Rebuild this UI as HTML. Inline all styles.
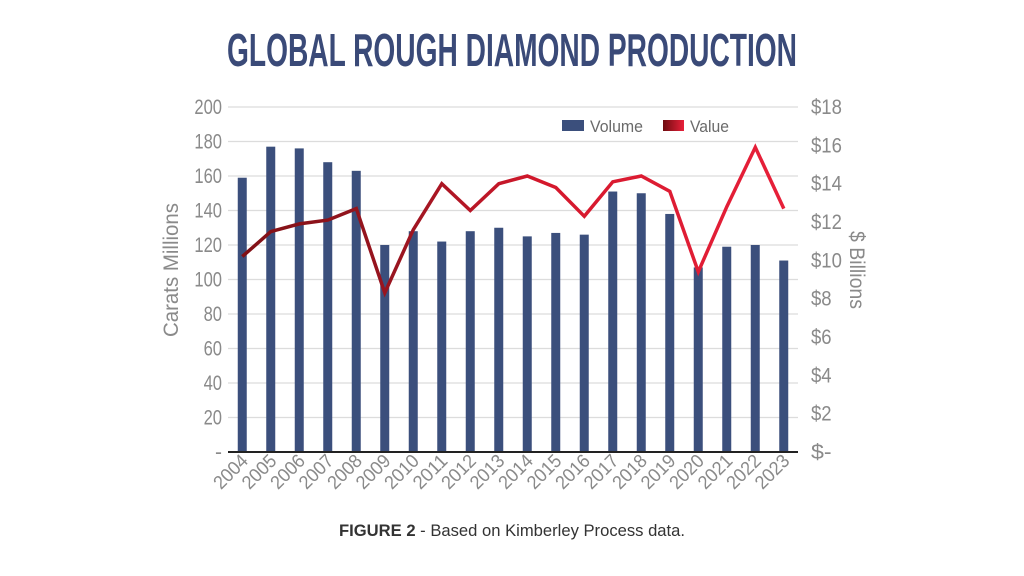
<!DOCTYPE html>
<html><head><meta charset="utf-8"><style>
html,body{margin:0;padding:0;background:#fff;}
svg{display:block;font-family:"Liberation Sans Narrow","Liberation Sans",sans-serif;}
</style></head><body>
<svg id="chart" width="1024" height="576" viewBox="0 0 1024 576" xmlns="http://www.w3.org/2000/svg">
<defs>
<linearGradient id="lineGrad" gradientUnits="userSpaceOnUse" x1="228" y1="0" x2="798" y2="0">
<stop offset="0" stop-color="#7e1015"/><stop offset="0.3" stop-color="#9a1520"/><stop offset="0.55" stop-color="#d4182c"/><stop offset="1" stop-color="#e8203a"/>
</linearGradient>
<linearGradient id="legGrad" x1="0" y1="0" x2="1" y2="0"><stop offset="0" stop-color="#6e0c10"/><stop offset="1" stop-color="#e8203a"/></linearGradient>
</defs>
<text x="512" y="66" text-anchor="middle" font-size="46" font-weight="bold" fill="#3a4a78" textLength="570" lengthAdjust="spacingAndGlyphs">GLOBAL ROUGH DIAMOND PRODUCTION</text>
<g id="grid"></g><g id="bars"></g><g id="line"></g><g id="axes"></g>
<text transform="translate(178,270) rotate(-90)" text-anchor="middle" font-size="21" fill="#8a8a8a" textLength="134" lengthAdjust="spacingAndGlyphs">Carats Millions</text>
<text transform="translate(850,270) rotate(90)" text-anchor="middle" font-size="21" fill="#8a8a8a" textLength="78" lengthAdjust="spacingAndGlyphs">$ Billions</text>
<g>
<rect x="562" y="120" width="22" height="11" fill="#3b4f7c"/>
<text x="590" y="132" font-size="17" fill="#6a6a6a" textLength="53" lengthAdjust="spacingAndGlyphs">Volume</text>
<rect x="663" y="120" width="21" height="11" fill="url(#legGrad)"/>
<text x="690" y="132" font-size="17" fill="#6a6a6a" textLength="39" lengthAdjust="spacingAndGlyphs">Value</text>
</g>
<text x="512" y="536" text-anchor="middle" font-size="17" fill="#333" textLength="346" lengthAdjust="spacingAndGlyphs"><tspan font-weight="bold">FIGURE 2</tspan> - Based on Kimberley Process data.</text>
</svg>
<script>
const years = ["2004","2005","2006","2007","2008","2009","2010","2011","2012","2013","2014","2015","2016","2017","2018","2019","2020","2021","2022","2023"];
const volume = [159,177,176,168,163,120,128,122,128,130,125,127,126,151,150,138,107,119,120,111];
const value = [10.2,11.5,11.9,12.1,12.7,8.3,11.6,14.0,12.6,14.0,14.4,13.8,12.3,14.1,14.4,13.6,9.4,12.8,15.9,12.7];
const leftTicks = [0,20,40,60,80,100,120,140,160,180,200];
const leftTickLabels = ["-","20","40","60","80","100","120","140","160","180","200"];
const rightTicks = [0,2,4,6,8,10,12,14,16,18];
const rightTickLabels = ["$-","$2","$4","$6","$8","$10","$12","$14","$16","$18"];

const NS="http://www.w3.org/2000/svg";
const X0=228,X1=798,Y0=452,Y1=107;
const step=(X1-X0)/years.length;
const xc=i=>X0+step*(i+0.5);
const yL=v=>Y0-(v/200)*(Y0-Y1);
const yR=v=>Y0-(v/18)*(Y0-Y1);
function mk(tag,attrs,parent){const e=document.createElementNS(NS,tag);for(const k in attrs)e.setAttribute(k,attrs[k]);parent.appendChild(e);return e;}
const grid=document.getElementById('grid'),bars=document.getElementById('bars'),line=document.getElementById('line'),axes=document.getElementById('axes');
leftTicks.forEach((t,i)=>{
  if(t>0){const g=mk('line',{x1:X0,x2:X1,y1:yL(t),y2:yL(t),stroke:'#dcdcdc','stroke-width':1.2},grid);
  
  }
  const lab=leftTickLabels[i];
  const a={x:222,y:yL(t)+7,'text-anchor':'end','font-size':21,fill:'#8a8a8a'};
  if(lab.length>1){a.textLength=lab.length*9.2;a.lengthAdjust='spacingAndGlyphs';}
  const tx=mk('text',a,axes);tx.textContent=lab;
  
  
});
rightTicks.forEach((t,i)=>{
  const lab=rightTickLabels[i];
  const tx=mk('text',{x:811,y:yR(t)+7,'font-size':21,fill:'#8a8a8a',textLength:lab.length*10.3,lengthAdjust:'spacingAndGlyphs'},axes);tx.textContent=lab;
  
  
});
volume.forEach((v,i)=>{
  const r=mk('rect',{x:xc(i)-4.5,y:yL(v),width:9,height:Y0-yL(v),fill:'#3b4f7c'},bars);
  
  
});
const pts=value.map((v,i)=>xc(i).toFixed(1)+','+yR(v).toFixed(1)).join(' ');
const pl=mk('polyline',{points:pts,fill:'none',stroke:'url(#lineGrad)','stroke-width':3.5,'stroke-linejoin':'miter'},line);


const ax=mk('line',{x1:X0,x2:X1,y1:Y0,y2:Y0,stroke:'#222','stroke-width':2},axes);


years.forEach((y,i)=>{
  const tx=mk('text',{transform:`translate(${xc(i)+7},${Y0+10}) rotate(-45)`,'text-anchor':'end','font-size':19,fill:'#8a8a8a',textLength:40,lengthAdjust:'spacingAndGlyphs'},axes);
  tx.textContent=y;
  
  
});
</script>
</body></html>
